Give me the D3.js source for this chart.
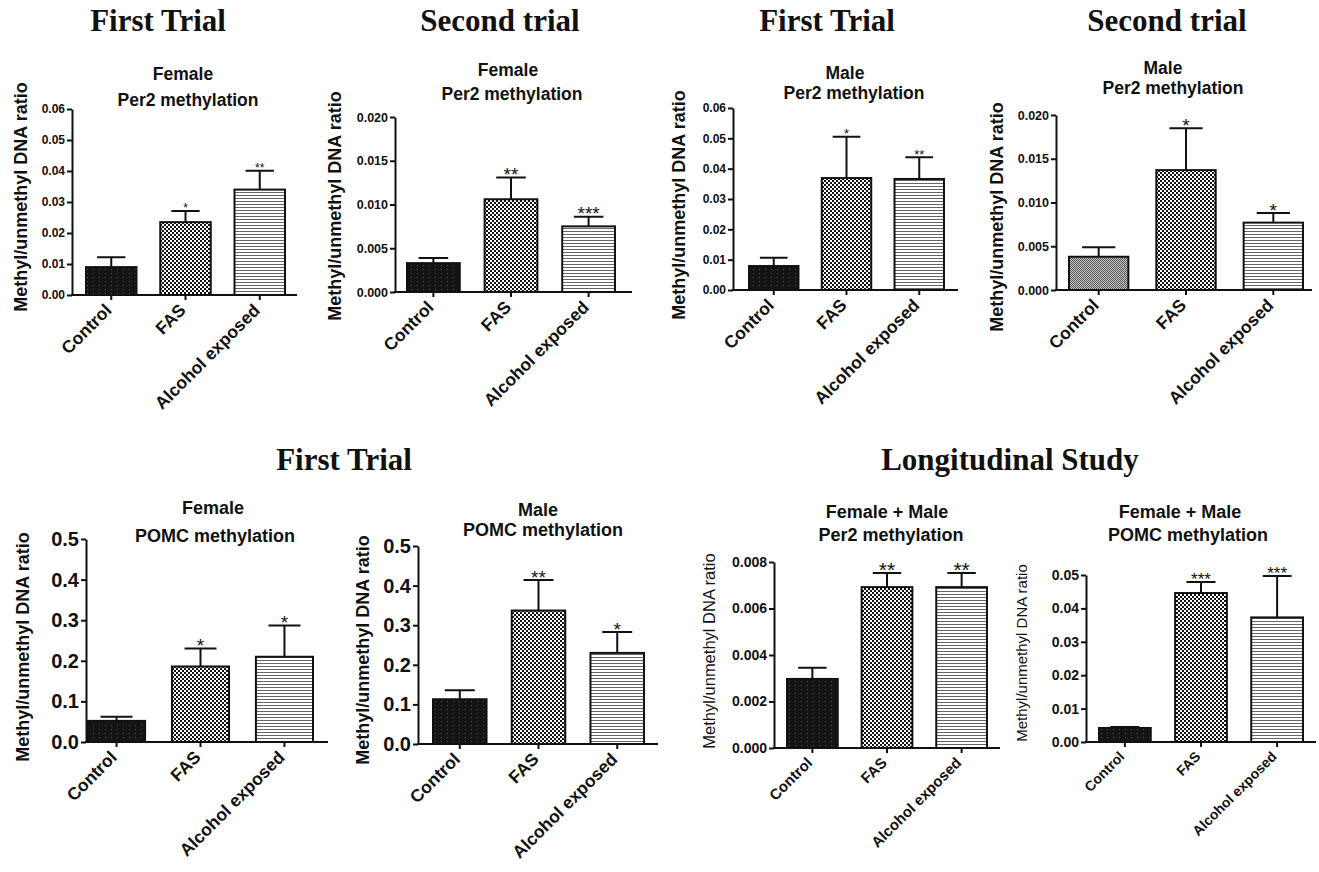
<!DOCTYPE html>
<html>
<head>
<meta charset="utf-8">
<script src="https://cdn.jsdelivr.net/npm/d3@7"></script>
<style>
body { margin: 0; background: #fff; }
text { fill: #111; }
</style>
</head>
<body>
<svg id="fig" width="1319" height="872"></svg>
<script>
// groups shared by every panel
var groups = ["Control", "FAS", "Alcohol exposed"]

// means and top of error bar (mean + SEM)
var femPer2T1 = [0.0090, 0.0235, 0.0340],   femPer2T1Err = [0.0122, 0.0271, 0.0401],   femPer2T1Sig = ["", "*", "**"]
var femPer2T2 = [0.0033, 0.0106, 0.0075],   femPer2T2Err = [0.0039, 0.0131, 0.0086],   femPer2T2Sig = ["", "**", "***"]
var malPer2T1 = [0.0079, 0.0369, 0.0366],   malPer2T1Err = [0.0106, 0.0505, 0.0438],   malPer2T1Sig = ["", "*", "**"]
var malPer2T2 = [0.0038, 0.0137, 0.0077],   malPer2T2Err = [0.0049, 0.0185, 0.0088],   malPer2T2Sig = ["", "*", "*"]
var femPomcT1 = [0.052, 0.186, 0.210],      femPomcT1Err = [0.062, 0.230, 0.287],      femPomcT1Sig = ["", "*", "*"]
var malPomcT1 = [0.113, 0.337, 0.230],      malPomcT1Err = [0.136, 0.414, 0.283],      malPomcT1Sig = ["", "**", "*"]
var longPer2  = [0.00297, 0.00692, 0.00692], longPer2Err = [0.00345, 0.00753, 0.00753], longPer2Sig = ["", "**", "**"]
var longPomc  = [0.0042, 0.0446, 0.0373],   longPomcErr = [0.0045, 0.0479, 0.0497],   longPomcSig = ["", "***", "***"]

// y axis ticks
var ticks006 = [0, 0.01, 0.02, 0.03, 0.04, 0.05, 0.06]
var ticks002 = [0, 0.005, 0.010, 0.015, 0.020]
var ticks05  = [0, 0.1, 0.2, 0.3, 0.4, 0.5]
var ticks008 = [0, 0.002, 0.004, 0.006, 0.008]
var ticks005 = [0, 0.01, 0.02, 0.03, 0.04, 0.05]

var yLabel = "Methyl/unmethyl DNA ratio"

var svg = d3.select("#fig")
var defs = svg.append("defs")

// fills: dark control, checker for FAS, stripes for alcohol exposed
var checker = defs.append("pattern").attr("id", "checker")
	.attr("patternUnits", "userSpaceOnUse").attr("width", 4).attr("height", 4)
checker.append("rect").attr("width", 4).attr("height", 4).attr("fill", "#fff")
checker.append("rect").attr("width", 2).attr("height", 2).attr("fill", "#111")
checker.append("rect").attr("x", 2).attr("y", 2).attr("width", 2).attr("height", 2).attr("fill", "#111")

var stripes = defs.append("pattern").attr("id", "stripes")
	.attr("patternUnits", "userSpaceOnUse").attr("width", 4).attr("height", 3)
stripes.append("rect").attr("width", 4).attr("height", 3).attr("fill", "#fff")
stripes.append("rect").attr("width", 4).attr("height", 1).attr("fill", "#666")

var dark = defs.append("pattern").attr("id", "dark")
	.attr("patternUnits", "userSpaceOnUse").attr("width", 6).attr("height", 4)
dark.append("rect").attr("width", 6).attr("height", 4).attr("fill", "#141414")
dark.append("rect").attr("x", 3).attr("y", 1).attr("width", 1).attr("height", 1).attr("fill", "#555")

var grey = defs.append("pattern").attr("id", "grey")
	.attr("patternUnits", "userSpaceOnUse").attr("width", 2).attr("height", 2)
grey.append("rect").attr("width", 2).attr("height", 2).attr("fill", "#c8c8c8")
grey.append("rect").attr("width", 1).attr("height", 1).attr("fill", "#555")
grey.append("rect").attr("x", 1).attr("y", 1).attr("width", 1).attr("height", 1).attr("fill", "#555")

var panels = [
	{v: femPer2T1, e: femPer2T1Err, sig: femPer2T1Sig, ticks: ticks006, fmt: ".2f", ctrl: "dark",
	 ax: 72, axEnd: 297, y0: 295, y1: 109, bars: [86, 285],
	 sub: ["Female", "Per2 methylation"], subX: [183, 188], subY: [80, 106], subSize: 17.5,
	 tickSize: 12, labSize: 18, labW: "bold", labX: 21, labY: 197, xSize: 17.5, starSize: 12},
	{v: femPer2T2, e: femPer2T2Err, sig: femPer2T2Sig, ticks: ticks002, fmt: ".3f", ctrl: "dark",
	 ax: 395, axEnd: 632, y0: 292, y1: 117, bars: [407, 615],
	 sub: ["Female", "Per2 methylation"], subX: [508, 512], subY: [76, 100], subSize: 17.5,
	 tickSize: 12.5, labSize: 18, labW: "bold", labX: 335, labY: 206, xSize: 17.5, starSize: 19},
	{v: malPer2T1, e: malPer2T1Err, sig: malPer2T1Sig, ticks: ticks006, fmt: ".2f", ctrl: "dark",
	 ax: 733, axEnd: 958, y0: 290, y1: 108, bars: [749, 944],
	 sub: ["Male", "Per2 methylation"], subX: [845, 854], subY: [79, 99], subSize: 17.5,
	 tickSize: 12, labSize: 18, labW: "bold", labX: 679, labY: 205, xSize: 17.5, starSize: 13},
	{v: malPer2T2, e: malPer2T2Err, sig: malPer2T2Sig, ticks: ticks002, fmt: ".3f", ctrl: "grey",
	 ax: 1056, axEnd: 1312, y0: 290, y1: 115, bars: [1069, 1303],
	 sub: ["Male", "Per2 methylation"], subX: [1163, 1173], subY: [74, 94], subSize: 17.5,
	 tickSize: 12.5, labSize: 18, labW: "bold", labX: 997, labY: 217, xSize: 17.5, starSize: 19},
	{v: femPomcT1, e: femPomcT1Err, sig: femPomcT1Sig, ticks: ticks05, fmt: ".1f", ctrl: "dark",
	 ax: 86, axEnd: 328, y0: 742, y1: 539, bars: [88, 313],
	 sub: ["Female", "POMC methylation"], subX: [213, 215], subY: [514, 542], subSize: 18,
	 tickSize: 20, labSize: 18, labW: "bold", labX: 23, labY: 647, xSize: 17.5, starSize: 19},
	{v: malPomcT1, e: malPomcT1Err, sig: malPomcT1Sig, ticks: ticks05, fmt: ".1f", ctrl: "dark",
	 ax: 418, axEnd: 658, y0: 744, y1: 546, bars: [433, 644],
	 sub: ["Male", "POMC methylation"], subX: [538, 543], subY: [516, 536], subSize: 18,
	 tickSize: 20, labSize: 18, labW: "bold", labX: 363, labY: 650, xSize: 17.5, starSize: 19},
	{v: longPer2, e: longPer2Err, sig: longPer2Sig, ticks: ticks008, fmt: ".3f", ctrl: "dark",
	 ax: 774, axEnd: 1000, y0: 748, y1: 562, bars: [787, 987],
	 sub: ["Female + Male", "Per2 methylation"], subX: [887, 891], subY: [518, 541], subSize: 18,
	 tickSize: 14, labSize: 16.5, labW: "normal", labX: 709, labY: 651, xSize: 15, starSize: 21},
	{v: longPomc, e: longPomcErr, sig: longPomcSig, ticks: ticks005, fmt: ".2f", ctrl: "dark",
	 ax: 1086, axEnd: 1316, y0: 742, y1: 575, bars: [1099, 1303],
	 sub: ["Female + Male", "POMC methylation"], subX: [1180, 1188], subY: [518, 541], subSize: 18,
	 tickSize: 14, labSize: 15, labW: "normal", labX: 1022, labY: 653, xSize: 14, starSize: 17}
]

var titles = [
	{t: "First Trial", x: 158, y: 31},
	{t: "Second trial", x: 500, y: 31},
	{t: "First Trial", x: 827, y: 31},
	{t: "Second trial", x: 1167, y: 31},
	{t: "First Trial", x: 344, y: 470},
	{t: "Longitudinal Study", x: 1010, y: 470}
]

svg.selectAll(".title").data(titles).enter().append("text")
	.attr("class", "title")
	.attr("x", function(d) {return d.x})
	.attr("y", function(d) {return d.y})
	.attr("text-anchor", "middle")
	.style("font-family", "'Liberation Serif', serif")
	.style("font-weight", "bold")
	.style("font-size", "31px")
	.text(function(d) {return d.t})

var sans = "'Liberation Sans', Arial, sans-serif"

panels.forEach(function(p) {
	var g = svg.append("g")
	var n = p.ticks.length
	var y = d3.scaleLinear().domain([0, p.ticks[n - 1]]).range([p.y0, p.y1])
	var x = d3.scaleBand().domain(groups).range(p.bars).paddingInner(0.32).paddingOuter(0)
	var bw = x.bandwidth()
	var rows = groups.map(function(k, i) {return {k: k, v: p.v[i], e: p.e[i], s: p.sig[i]}})
	var fills = {"Control": "url(#" + p.ctrl + ")", "FAS": "url(#checker)", "Alcohol exposed": "url(#stripes)"}

	g.selectAll(".bar").data(rows).enter().append("rect")
		.attr("class", "bar")
		.attr("x", function(d) {return x(d.k)})
		.attr("y", function(d) {return y(d.v)})
		.attr("width", bw)
		.attr("height", function(d) {return y(0) - y(d.v)})
		.attr("fill", function(d) {return fills[d.k]})
		.attr("stroke", "#111")
		.attr("stroke-width", 2)

	// error bars
	g.selectAll(".err").data(rows).enter().append("path")
		.attr("class", "err")
		.attr("d", function(d) {
			var cx = x(d.k) + bw / 2, cw = bw * 0.28
			return "M" + cx + "," + y(d.v) + "V" + y(d.e) + "M" + (cx - cw) + "," + y(d.e) + "H" + (cx + cw)
		})
		.attr("stroke", "#111")
		.attr("stroke-width", 2)
		.attr("fill", "none")

	g.selectAll(".sig").data(rows).enter().append("text")
		.attr("class", "sig")
		.attr("x", function(d) {return x(d.k) + bw / 2})
		.attr("y", function(d) {return y(d.e) - 3 + p.starSize * 0.35})
		.attr("text-anchor", "middle")
		.style("font-family", sans)
		.style("font-size", p.starSize + "px")
		.text(function(d) {return d.s})

	// y axis
	var yAxis = d3.axisLeft(y).tickValues(p.ticks).tickFormat(d3.format(p.fmt)).tickSize(5).tickSizeOuter(0)
	var ya = g.append("g").attr("transform", "translate(" + p.ax + ",0)").call(yAxis)
	ya.select(".domain").attr("stroke", "#111").attr("stroke-width", 2)
	ya.selectAll(".tick line").attr("stroke", "#111").attr("stroke-width", 2)
	ya.selectAll(".tick text")
		.attr("x", -7)
		.style("font-family", sans)
		.style("font-weight", "bold")
		.style("font-size", p.tickSize + "px")
		.style("fill", "#111")

	// x axis: line across the whole panel, ticks at bar centres
	var xAxis = d3.axisBottom(x).tickSize(5).tickSizeOuter(0).tickFormat("")
	var xa = g.append("g").attr("transform", "translate(0," + p.y0 + ")").call(xAxis)
	xa.select(".domain").remove()
	xa.selectAll(".tick line").attr("stroke", "#111").attr("stroke-width", 2)
	g.append("line")
		.attr("x1", p.ax - 1).attr("x2", p.axEnd)
		.attr("y1", p.y0).attr("y2", p.y0)
		.attr("stroke", "#111").attr("stroke-width", 2)

	g.selectAll(".xlab").data(groups).enter().append("text")
		.attr("class", "xlab")
		.attr("transform", function(d) {return "translate(" + (x(d) + bw / 2 - 3) + "," + (p.y0 + 12) + ") rotate(-45)"})
		.attr("text-anchor", "end")
		.attr("dy", "0.35em")
		.style("font-family", sans)
		.style("font-weight", "bold")
		.style("font-size", p.xSize + "px")
		.text(function(d) {return d})

	g.append("text")
		.attr("transform", "translate(" + p.labX + "," + p.labY + ") rotate(-90)")
		.attr("text-anchor", "middle")
		.attr("dy", "0.35em")
		.style("font-family", sans)
		.style("font-weight", p.labW)
		.style("font-size", p.labSize + "px")
		.text(yLabel)

	g.selectAll(".sub").data(p.sub).enter().append("text")
		.attr("class", "sub")
		.attr("x", function(d, i) {return p.subX[i]})
		.attr("y", function(d, i) {return p.subY[i]})
		.attr("text-anchor", "middle")
		.style("font-family", sans)
		.style("font-weight", "bold")
		.style("font-size", p.subSize + "px")
		.text(function(d) {return d})
})
</script>
</body>
</html>
